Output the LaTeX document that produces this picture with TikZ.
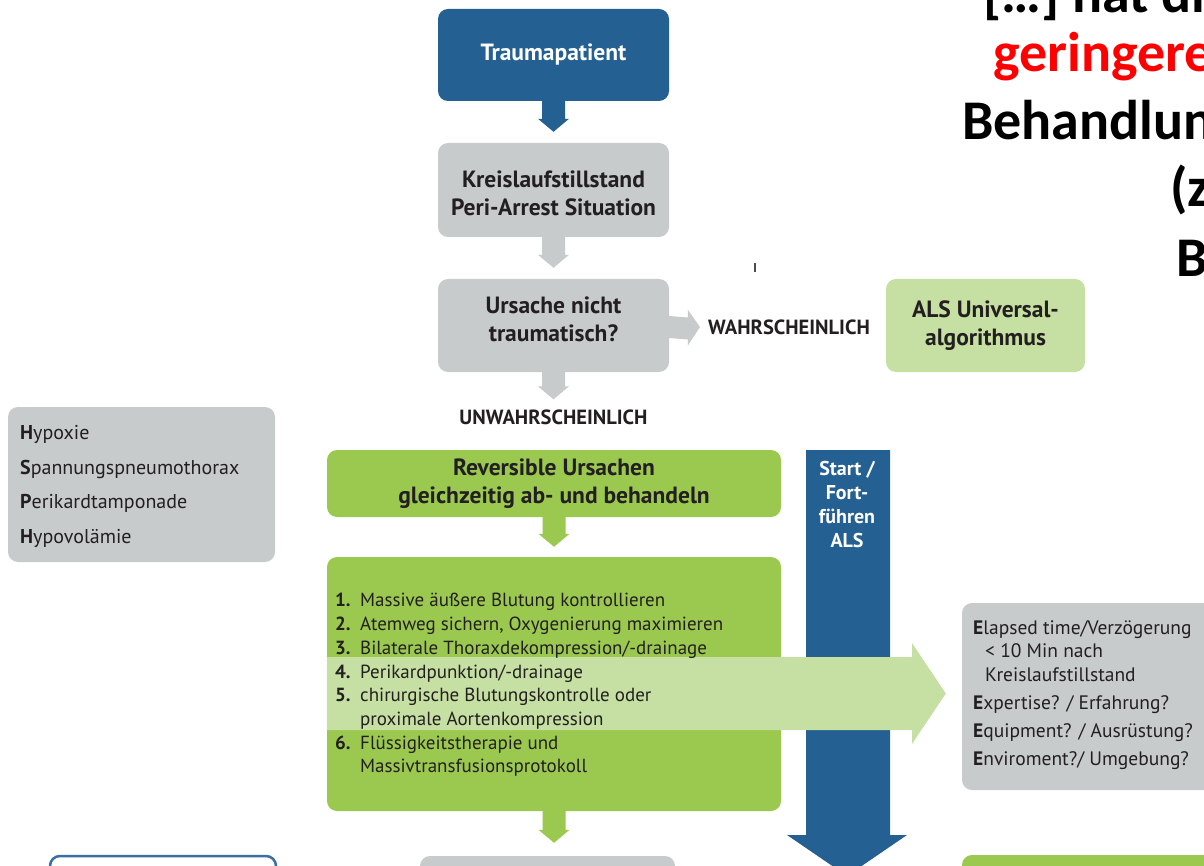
\documentclass[tikz,border=0pt]{standalone}
\usepackage{fontspec}
\setmainfont{PT Sans}
\newfontfamily\slidefont{Carlito}
\usetikzlibrary{calc}

\definecolor{traumablue}{RGB}{36,96,145}
\definecolor{boxgray}{RGB}{200,203,204}
\definecolor{algogreen}{RGB}{155,201,80}
\definecolor{palegreen}{RGB}{197,224,162}
\definecolor{inkdark}{RGB}{35,31,32}
\definecolor{outlineblue}{RGB}{58,110,165}
\definecolor{slidered}{RGB}{255,0,0}

\tikzset{
  x=1pt, y=-1pt,
  card/.style={rectangle, rounded corners=10pt, inner sep=0pt, align=center,
    text=inkdark, font=\bfseries\fontsize{23.5}{28}\selectfont},
  cardtext/.style={inner sep=0pt, align=center, text=inkdark,
    font=\bfseries\fontsize{23.5}{28}\selectfont},
  bluecard/.style={card, fill=traumablue, text=white},
  graycard/.style={card, fill=boxgray},
  greencard/.style={card, fill=algogreen},
  palecard/.style={card, fill=palegreen},
  linecard/.style={card, fill=white, draw=outlineblue, line width=2.5pt},
  branchlabel/.style={inner sep=0pt, text=inkdark, font=\bfseries\fontsize{20.5}{24}\selectfont},
  listtext/.style={inner sep=0pt, align=left, text=inkdark},
  slideline/.style={anchor=base west, inner sep=0pt, font=\slidefont\bfseries\fontsize{56}{64}\selectfont},
}

% vertical block arrow from the bottom of one node towards another
\newcommand\downblock[4]{%
  \coordinate (tip) at ($(#1.south |- #2.north)+(0,-#3)$);
  \fill[#4] ($(#1.south)+(-11.5,0)$) -- ($(tip)+(-11.5,-13)$) -- ($(tip)+(-15.5,-13)$)
    -- (tip) -- ($(tip)+(15.5,-13)$) -- ($(tip)+(11.5,-13)$) -- ($(#1.south)+(11.5,0)$) -- cycle;}

\begin{document}
\begin{tikzpicture}
\useasboundingbox (0,0) rectangle (1204,866);
\clip (0,0) rectangle (1204,866);
\fill[white] (0,0) rectangle (1204,866);

% slide heading, running off the right edge
\node[slideline, text=black] (h1) at (983,13) {[…] hat di};
\node[slideline, text=slidered] (h2) at (993,72) {geringere};
\node[slideline, text=black] (h3) at (962,140) {Behandlun};
\node[slideline, text=black] (h4) at (1170,207) {(z};
\node[slideline, text=black] (h5) at (1176,277) {B};

% main column
\node[bluecard, minimum width=231, minimum height=92] (trauma) at (553.5,55) {Traumapatient};
\node[graycard, minimum width=231, minimum height=94] (arrest) at (553.5,190) {};
\node[cardtext] (arresttext) at ($(arrest)+(0,3)$) {Kreislaufstillstand\\Peri-Arrest Situation};
\node[graycard, minimum width=231, minimum height=93] (cause) at (553.5,325.5) {};
\node[cardtext] (causetext) at ($(cause)+(0,-6)$) {Ursache nicht\\traumatisch?};
\node[branchlabel] (likely) at (789,327) {WAHRSCHEINLICH};
\node[palecard, minimum width=199, minimum height=93] (als) at (985.5,325.5) {ALS Universal-\\algorithmus};
\node[branchlabel] (unlikely) at (553.5,417) {UNWAHRSCHEINLICH};

\fill[inkdark!80] (754,263) rectangle (756,272);

\node[greencard, minimum width=454, minimum height=67] (reversible) at (554,483.5) {Reversible Ursachen\\gleichzeitig ab- und behandeln};
\node[greencard, minimum width=454, minimum height=254] (steps) at (554,684) {};

% H S P H
\node[graycard, minimum width=267, minimum height=155] (hsph) at (141.5,484.5) {};
\node[listtext, anchor=west, font=\fontsize{20}{34.7}\selectfont] (hsphtext) at (20,486.5)
  {\textbf{H}ypoxie\\\textbf{S}pannungspneumothorax\\\textbf{P}erikardtamponade\\\textbf{H}ypovolämie};

% E E E E
\node[graycard, minimum width=262, minimum height=187] (eeee) at (1093,696.5) {};
\node[listtext, anchor=west, font=\fontsize{19.5}{23.5}\selectfont] (eeeetext) at (973,695)
  {\textbf{E}lapsed time/Verzögerung\\
   \hspace*{12pt}< 10 Min nach\\
   \hspace*{12pt}Kreislaufstillstand\\[4.5pt]
   \textbf{E}xpertise? / Erfahrung?\\[4.5pt]
   \textbf{E}quipment? / Ausrüstung?\\[4.5pt]
   \textbf{E}nviroment?/ Umgebung?};

% boxes of the next row
\node[linecard, minimum width=226, minimum height=80] (nextleft) at (163,896) {};
\node[graycard, minimum width=255, minimum height=80] (nextmid) at (547.5,896) {};
\node[greencard, minimum width=262, minimum height=80] (nextright) at (1093,895) {};

% block arrows between the boxes
\downblock{trauma}{arrest}{11}{traumablue}
\downblock{arrest}{cause}{11}{boxgray}
\downblock{cause}{unlikely}{10}{boxgray}
\downblock{reversible}{steps}{10}{algogreen}
\downblock{steps}{nextmid}{13}{algogreen}

\coordinate (rtip) at ($(cause.east -| likely.west)+(-8,1.5)$);
\fill[boxgray] ($(cause.east)+(0,-9.5)$) -- ($(rtip)+(-12,-9.5)$) -- ($(rtip)+(-12,-17)$)
  -- (rtip) -- ($(rtip)+(-12,18.5)$) -- ($(rtip)+(-12,12.5)$) -- ($(cause.east)+(0,12.5)$) -- cycle;

% ALS running alongside
\fill[traumablue] (806,450) -- (890,450) -- (890,835) -- (907,835) -- (847,876)
  -- (787,835) -- (806,835) -- cycle;
\node[inner sep=0pt, align=center, text=white, font=\bfseries\fontsize{20}{24}\selectfont]
  (alstext) at (847,504) {Start /\\Fort-\\führen\\ALS};

% decision arrow towards E E E E
\fill[palegreen] (steps.west |- 0,657) -- (912,657) -- (912,643) -- ($(eeee.west)+(-16,-3)$)
  -- (912,744) -- (912,730) -- (steps.west |- 0,730) -- cycle;

\node[listtext, anchor=west, font=\fontsize{19}{23.7}\selectfont] (stepstext) at (335,685)
  {\makebox[25pt][l]{\textbf{1.}}Massive äußere Blutung kontrollieren\\
   \makebox[25pt][l]{\textbf{2.}}Atemweg sichern, Oxygenierung maximieren\\
   \makebox[25pt][l]{\textbf{3.}}Bilaterale Thoraxdekompression/-drainage\\
   \makebox[25pt][l]{\textbf{4.}}Perikardpunktion/-drainage\\
   \makebox[25pt][l]{\textbf{5.}}chirurgische Blutungskontrolle oder\\
   \hspace*{25pt}proximale Aortenkompression\\
   \makebox[25pt][l]{\textbf{6.}}Flüssigkeitstherapie und\\
   \hspace*{25pt}Massivtransfusionsprotokoll};
\end{tikzpicture}
\end{document}
